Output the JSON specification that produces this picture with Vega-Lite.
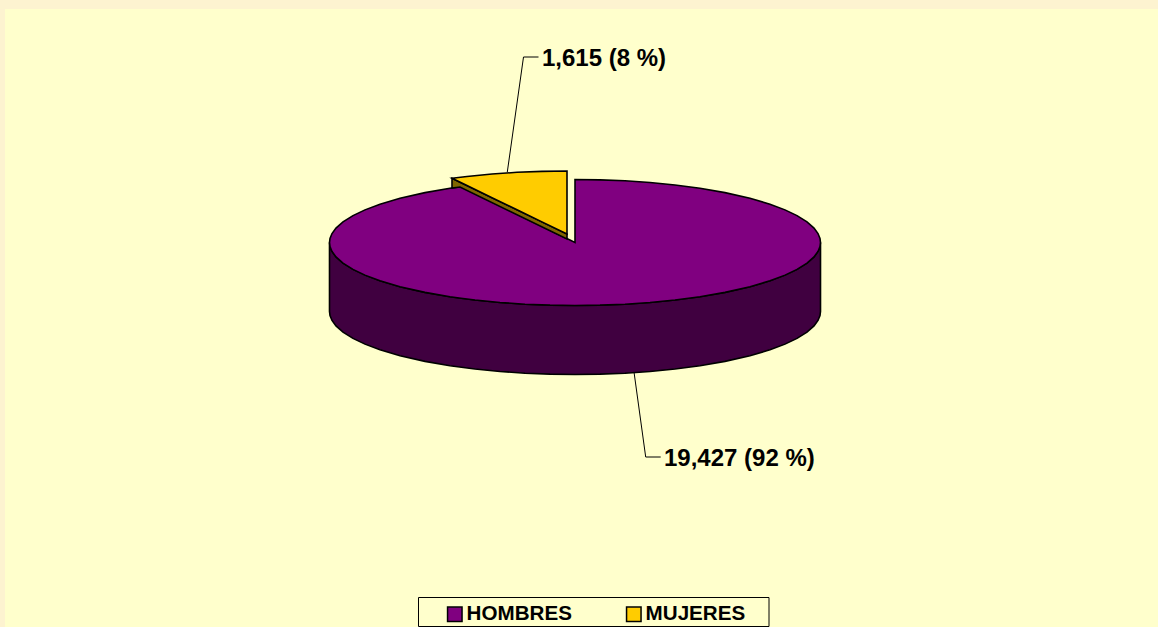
{"$schema":"https://vega.github.io/schema/vega-lite/v6.json","width":1158,"height":627,"padding":0,"autosize":"none","background":"#FDF3D0","config":{"view":{"stroke":null},"style":{"cell":{"stroke":null}}},
"datasets":{
"panels":[{"part":"panel","x":5,"x2":1160,"y":9,"y2":630,"fill":"panel"}],
"legendbox":[{"x":418.5,"x2":769,"y":597.5,"y2":626.5}],
"side":[{"x":329.5,"y":242.5,"y2":311.5},{"x":330,"y":246.52,"y2":315.52},{"x":332,"y":251.46,"y2":320.46},{"x":336,"y":256.9,"y2":325.9},{"x":343,"y":263.1,"y2":332.1},{"x":353,"y":269.4,"y2":338.4},{"x":365,"y":275.13,"y2":344.13},{"x":380,"y":280.77,"y2":349.77},{"x":400,"y":286.68,"y2":355.68},{"x":425,"y":292.37,"y2":361.37},{"x":450,"y":296.72,"y2":365.72},{"x":475,"y":300.04,"y2":369.04},{"x":500,"y":302.49,"y2":371.49},{"x":525,"y":304.18,"y2":373.18},{"x":550,"y":305.17,"y2":374.17},{"x":575,"y":305.5,"y2":374.5},{"x":600,"y":305.17,"y2":374.17},{"x":625,"y":304.18,"y2":373.18},{"x":650,"y":302.49,"y2":371.49},{"x":675,"y":300.04,"y2":369.04},{"x":700,"y":296.72,"y2":365.72},{"x":725,"y":292.37,"y2":361.37},{"x":750,"y":286.68,"y2":355.68},{"x":770,"y":280.77,"y2":349.77},{"x":785,"y":275.13,"y2":344.13},{"x":797,"y":269.4,"y2":338.4},{"x":807,"y":263.1,"y2":332.1},{"x":814,"y":256.9,"y2":325.9},{"x":818,"y":251.46,"y2":320.46},{"x":820,"y":246.52,"y2":315.52},{"x":820.5,"y":242.5,"y2":311.5}],
"tops":[
{"sexo":"HOMBRES","x":329.5,"y":242.5,"y2":242.5},{"sexo":"HOMBRES","x":330,"y":238.48,"y2":246.52},{"sexo":"HOMBRES","x":332,"y":233.54,"y2":251.46},{"sexo":"HOMBRES","x":336,"y":228.1,"y2":256.9},{"sexo":"HOMBRES","x":343,"y":221.9,"y2":263.1},{"sexo":"HOMBRES","x":353,"y":215.6,"y2":269.4},{"sexo":"HOMBRES","x":365,"y":209.87,"y2":275.13},{"sexo":"HOMBRES","x":380,"y":204.23,"y2":280.77},{"sexo":"HOMBRES","x":400,"y":198.32,"y2":286.68},{"sexo":"HOMBRES","x":425,"y":192.63,"y2":292.37},{"sexo":"HOMBRES","x":450,"y":188.28,"y2":296.72},{"sexo":"HOMBRES","x":461,"y":186.7,"y2":298.3},{"sexo":"HOMBRES","x":475,"y":193.55,"y2":300.04},{"sexo":"HOMBRES","x":500,"y":205.79,"y2":302.49},{"sexo":"HOMBRES","x":525,"y":218.03,"y2":304.18},{"sexo":"HOMBRES","x":550,"y":230.27,"y2":305.17},{"sexo":"HOMBRES","x":575,"y":242.4,"y2":305.5},{"sexo":"HOMBRES","x":575.01,"y":179.5,"y2":305.5},{"sexo":"HOMBRES","x":600,"y":179.83,"y2":305.17},{"sexo":"HOMBRES","x":625,"y":180.82,"y2":304.18},{"sexo":"HOMBRES","x":650,"y":182.51,"y2":302.49},{"sexo":"HOMBRES","x":675,"y":184.96,"y2":300.04},{"sexo":"HOMBRES","x":700,"y":188.28,"y2":296.72},{"sexo":"HOMBRES","x":725,"y":192.63,"y2":292.37},{"sexo":"HOMBRES","x":750,"y":198.32,"y2":286.68},{"sexo":"HOMBRES","x":770,"y":204.23,"y2":280.77},{"sexo":"HOMBRES","x":785,"y":209.87,"y2":275.13},{"sexo":"HOMBRES","x":797,"y":215.6,"y2":269.4},{"sexo":"HOMBRES","x":807,"y":221.9,"y2":263.1},{"sexo":"HOMBRES","x":814,"y":228.1,"y2":256.9},{"sexo":"HOMBRES","x":818,"y":233.54,"y2":251.46},{"sexo":"HOMBRES","x":820,"y":238.48,"y2":246.52},{"sexo":"HOMBRES","x":820.5,"y":242.5,"y2":242.5},
{"sexo":"MUJERES","x":452,"y":178.3,"y2":178.3},{"sexo":"MUJERES","x":467,"y":176.46,"y2":185.57},{"sexo":"MUJERES","x":492,"y":174.01,"y2":197.68},{"sexo":"MUJERES","x":517,"y":172.32,"y2":209.79},{"sexo":"MUJERES","x":542,"y":171.33,"y2":221.9},{"sexo":"MUJERES","x":567,"y":171,"y2":234}],
"edge":[{"x":452,"y":178.3,"y2":188},{"x":460,"y":182.2,"y2":187},{"x":567,"y":234,"y2":239}],
"leaders":[{"s":"a","x":507.3,"y":172},{"s":"a","x":523.5,"y":57},{"s":"a","x":538.5,"y":57},{"s":"b","x":634,"y":372},{"s":"b","x":645.7,"y":457},{"s":"b","x":660.7,"y":457}],
"labels":[{"x":542,"y":59,"t":"1,615 (8 %)"},{"x":664,"y":458.5,"t":"19,427 (92 %)"}]
},
"encoding":{
"x":{"field":"x","type":"quantitative","axis":null,"scale":{"domain":[0,1158],"nice":false,"zero":false}},
"y":{"field":"y","type":"quantitative","axis":null,"scale":{"domain":[627,0],"nice":false,"zero":false}}
},
"layer":[
{"data":{"name":"panels"},"mark":{"type":"rect","fill":"#FFFFCC","clip":true},"encoding":{"x2":{"field":"x2"},"y2":{"field":"y2"}}},
{"data":{"name":"side"},"mark":{"type":"area","fill":"#400040","stroke":"#000000","strokeWidth":1.6,"orient":"vertical"},"encoding":{"y2":{"field":"y2"}}},
{"data":{"name":"tops"},"transform":[{"filter":"datum.sexo==='HOMBRES'"}],"mark":{"type":"area","stroke":"#000000","strokeWidth":1.6,"orient":"vertical"},"encoding":{"y2":{"field":"y2"},"color":{"field":"sexo","type":"nominal","scale":{"domain":["HOMBRES","MUJERES"],"range":["#800080","#FFCC00"]},"legend":{"title":null,"orient":"none","legendX":444.5,"legendY":604,"columns":2,"padding":0,"columnPadding":51,"symbolType":"square","symbolSize":210,"symbolStrokeColor":"#000000","symbolStrokeWidth":1.5,"symbolOpacity":1,"labelFont":"Liberation Sans","labelFontWeight":"bold","labelFontSize":20.6,"labelColor":"#000000","labelOffset":1.5,"labelLimit":300}}}},
{"data":{"name":"edge"},"mark":{"type":"area","fill":"#806600","stroke":"#000000","strokeWidth":1.6,"orient":"vertical"},"encoding":{"y2":{"field":"y2"}}},
{"data":{"name":"tops"},"transform":[{"filter":"datum.sexo==='MUJERES'"}],"mark":{"type":"area","stroke":"#000000","strokeWidth":1.6,"orient":"vertical"},"encoding":{"y2":{"field":"y2"},"color":{"field":"sexo","type":"nominal"}}},
{"data":{"name":"leaders"},"mark":{"type":"line","stroke":"#000000","strokeWidth":1},"encoding":{"detail":{"field":"s"}}},
{"data":{"name":"labels"},"mark":{"type":"text","align":"left","baseline":"middle","font":"Liberation Sans","fontWeight":"bold","fontSize":24,"color":"#000000"},"encoding":{"text":{"field":"t"}}},
{"data":{"name":"legendbox"},"mark":{"type":"rect","fill":"#FFFFCC","stroke":"#000000","strokeWidth":1},"encoding":{"x2":{"field":"x2"},"y2":{"field":"y2"}}}
]}
